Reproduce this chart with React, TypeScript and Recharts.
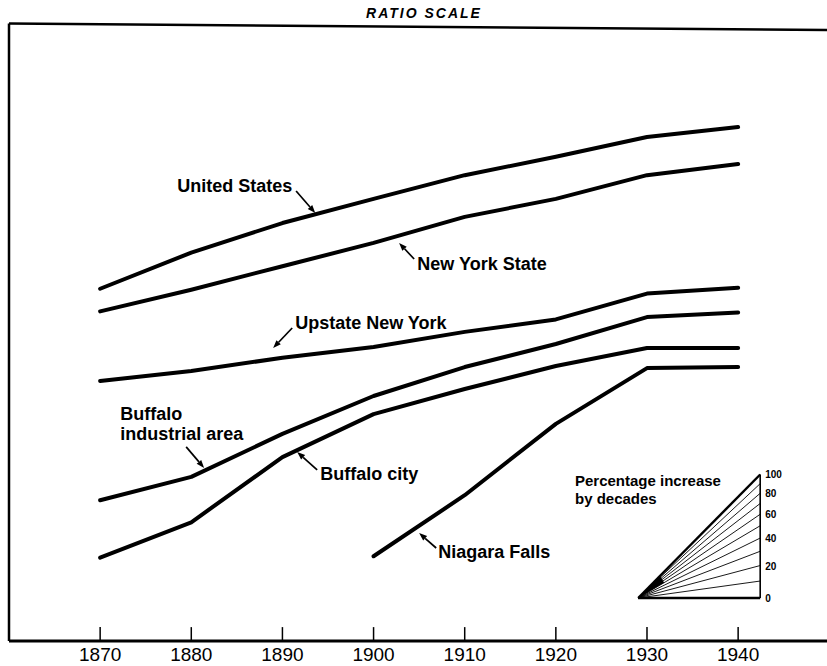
import React from "react";
import { LineChart, Line, XAxis, YAxis, ReferenceLine, ReferenceDot } from "recharts";

// census years on the x axis
const years = [1870, 1880, 1890, 1900, 1910, 1920, 1930, 1940];

// ratio-scale readings (common arbitrary base)
const unitedStates = [14.1, 18.5, 23.1, 27.7, 33.1, 38.0, 44.1, 47.5];
const newYorkState = [11.9, 14.0, 16.7, 19.9, 24.2, 27.7, 33.1, 36.0];
const upstateNewYork = [7.05, 7.6, 8.4, 9.1, 10.2, 11.2, 13.6, 14.2];
const buffaloArea = [2.88, 3.43, 4.74, 6.3, 7.83, 9.31, 11.4, 11.8];
const buffaloCity = [1.87, 2.44, 3.98, 5.5, 6.64, 7.89, 9.04, 9.04];
const niagaraFalls = [null, null, null, 1.89, 2.99, 5.11, 7.77, 7.83];

// percentage-increase key
const fanSteps = [0, 10, 20, 30, 40, 50, 60, 70, 80, 90, 100];
const fanLabels = [0, 20, 40, 60, 80, 100];

const data = years.map((year, i) => ({
  year,
  us: unitedStates[i],
  nys: newYorkState[i],
  upstate: upstateNewYork[i],
  area: buffaloArea[i],
  city: buffaloCity[i],
  niagara: niagaraFalls[i],
}));

const FONT = "'Liberation Sans', Arial, sans-serif";
const X_MIN = 1860;
const X_MAX = 1949.75;
const FAN_START = 1929.03;
const FAN_END = 1942.42;
const FAN_BASE = 1.381;
const fanValue = (step: number) => FAN_BASE * Math.pow(1 + step / 100, (FAN_END - FAN_START) / 10);

const annotations = [
  { lines: ["United States"], at: [1878.45, 30.5], from: [1891.5, 29.4], to: [1893.6, 24.9] },
  { lines: ["New York State"], at: [1904.8, 16.98], from: [1904.45, 17.63], to: [1902.8, 19.9] },
  { lines: ["Upstate New York"], at: [1891.4, 10.9], from: [1891.07, 10.5], to: [1888.98, 9.03] },
  { lines: ["Buffalo", "industrial area"], at: [1872.2, 5.5], from: [1879.44, 4.3], to: [1881.41, 3.67] },
  { lines: ["Buffalo city"], at: [1894.14, 3.506], from: [1893.81, 3.614], to: [1891.62, 4.137] },
  { lines: ["Niagara Falls"], at: [1907.1, 1.951], from: [1906.87, 2.011], to: [1905.0, 2.251] },
];

function Arrow(p: any) {
  const { x1, y1, x2, y2 } = p;
  const a = Math.atan2(y2 - y1, x2 - x1);
  const len = 8;
  const half = 3;
  const bx = x2 - len * Math.cos(a);
  const by = y2 - len * Math.sin(a);
  const pts = [
    `${x2},${y2}`,
    `${bx + half * Math.sin(a)},${by - half * Math.cos(a)}`,
    `${bx - half * Math.sin(a)},${by + half * Math.cos(a)}`,
  ].join(" ");
  return (
    <g>
      <line x1={x1} y1={y1} x2={bx} y2={by} stroke="#000" strokeWidth={1.7} />
      <polygon points={pts} fill="#000" />
    </g>
  );
}

// dark wedge where the key's rays meet
function Wedge(p: any) {
  const { x1, y1, x2, y2 } = p;
  const dx = (x2 - x1) * 0.18;
  const dy = (y2 - y1) * 0.18;
  const pts = `${x1},${y1} ${x1 + dx},${y1 + dy} ${x1 + dx + 4},${y1 + dy + 7}`;
  return <polygon points={pts} fill="#000" />;
}

const textShape = (lines: string[], size: number, lineHeight: number, dx = 0) => (p: any) => (
  <text x={p.cx + dx} y={p.cy} fontFamily={FONT} fontSize={size} fontWeight="bold" fill="#000" dominantBaseline="central">
    {lines.map((t, i) => (
      <tspan key={i} x={p.cx + dx} dy={i === 0 ? 0 : lineHeight}>
        {t}
      </tspan>
    ))}
  </text>
);

export default function App() {
  return (
    <div style={{ position: "fixed", left: 0, top: 0, width: 827, height: 666, background: "#fff" }}>
      <div
        style={{
          position: "absolute",
          left: 424,
          top: 13,
          transform: "translate(-50%, -50%)",
          fontFamily: FONT,
          fontSize: 14,
          fontWeight: "bold",
          fontStyle: "italic",
          letterSpacing: 2,
          whiteSpace: "nowrap",
        }}
      >
        RATIO SCALE
      </div>
      <LineChart width={827} height={666} data={data} margin={{ top: 28, right: 0, bottom: 0, left: 9 }}>
        <XAxis
          dataKey="year"
          type="number"
          domain={[X_MIN, X_MAX]}
          allowDataOverflow
          ticks={years}
          interval={0}
          tickLine={false}
          tickSize={0}
          tickMargin={7}
          height={25}
          axisLine={{ stroke: "#000", strokeWidth: 3 }}
          tick={{ fontFamily: FONT, fontSize: 19, fill: "#000" }}
        />
        <YAxis scale="log" domain={[1, 100]} allowDataOverflow hide />

        {/* frame */}
        <ReferenceLine segment={[{ x: X_MIN, y: 1 }, { x: X_MIN, y: 103.4 }]} stroke="#000" strokeWidth={2.5} ifOverflow="visible" />
        <ReferenceLine segment={[{ x: X_MIN, y: 103.4 }, { x: X_MAX, y: 98.5 }]} stroke="#000" strokeWidth={2.5} ifOverflow="visible" />
        {years.map((y) => (
          <ReferenceLine key={y} segment={[{ x: y, y: 1 }, { x: y, y: 1.11 }]} stroke="#000" strokeWidth={1.5} ifOverflow="visible" />
        ))}

        <Line dataKey="us" stroke="#000" strokeWidth={4} dot={false} strokeLinejoin="round" strokeLinecap="round" isAnimationActive={false} />
        <Line dataKey="nys" stroke="#000" strokeWidth={4} dot={false} strokeLinejoin="round" strokeLinecap="round" isAnimationActive={false} />
        <Line dataKey="upstate" stroke="#000" strokeWidth={4} dot={false} strokeLinejoin="round" strokeLinecap="round" isAnimationActive={false} />
        <Line dataKey="area" stroke="#000" strokeWidth={4} dot={false} strokeLinejoin="round" strokeLinecap="round" isAnimationActive={false} />
        <Line dataKey="city" stroke="#000" strokeWidth={4} dot={false} strokeLinejoin="round" strokeLinecap="round" isAnimationActive={false} />
        <Line dataKey="niagara" stroke="#000" strokeWidth={4} dot={false} strokeLinejoin="round" strokeLinecap="round" isAnimationActive={false} />

        {/* labels and arrows */}
        {annotations.map((a, i) => (
          <ReferenceLine
            key={`arrow-${i}`}
            segment={[{ x: a.from[0], y: a.from[1] }, { x: a.to[0], y: a.to[1] }]}
            ifOverflow="visible"
            shape={(p: any) => <Arrow {...p} />}
          />
        ))}
        {annotations.map((a, i) => (
          <ReferenceDot key={`label-${i}`} x={a.at[0]} y={a.at[1]} ifOverflow="visible" shape={textShape(a.lines, 18, 20)} />
        ))}

        {/* percentage increase key */}
        <ReferenceDot x={1922.1} y={3.352} ifOverflow="visible" shape={textShape(["Percentage increase", "by decades"], 15, 18)} />
        {fanSteps.map((s) => (
          <ReferenceLine
            key={`fan-${s}`}
            segment={[{ x: FAN_START, y: FAN_BASE }, { x: FAN_END, y: fanValue(s) }]}
            stroke="#000"
            strokeWidth={s === 0 || s === 100 ? 2.4 : 0.9}
            ifOverflow="visible"
          />
        ))}
        <ReferenceLine
          segment={[{ x: FAN_START, y: FAN_BASE }, { x: FAN_END, y: fanValue(100) }]}
          ifOverflow="visible"
          shape={(p: any) => <Wedge {...p} />}
        />
        <ReferenceLine segment={[{ x: FAN_END, y: FAN_BASE }, { x: FAN_END, y: fanValue(100) }]} stroke="#000" strokeWidth={1.6} ifOverflow="visible" />
        {fanLabels.map((s) => (
          <ReferenceDot key={`fanlab-${s}`} x={FAN_END} y={fanValue(s)} ifOverflow="visible" shape={textShape([String(s)], 10, 0, 5)} />
        ))}
      </LineChart>
    </div>
  );
}
